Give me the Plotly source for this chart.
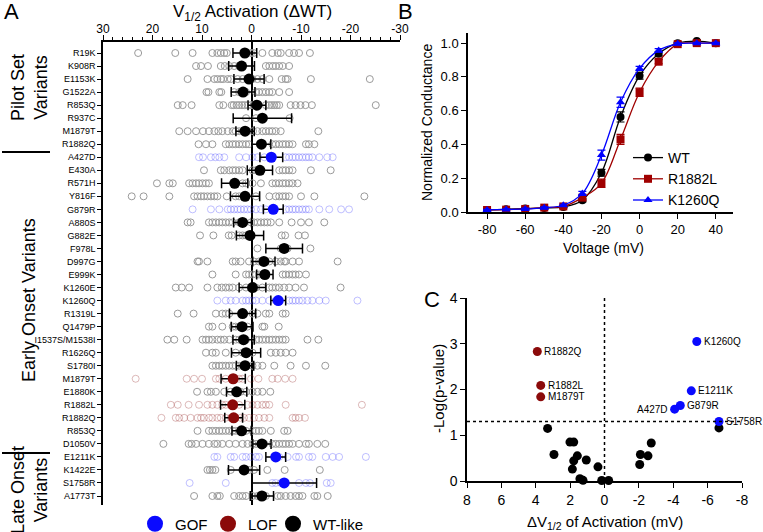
import plotly.graph_objects as go

FONT = "Liberation Sans, Arial, sans-serif"

# ---- Panel A: V1/2 shift per variant (relative to WT) ----
variants = ["R19K", "K908R", "E1153K", "G1522A", "R853Q", "R937C", "M1879T",
            "R1882Q", "A427D", "E430A", "R571H", "Y816F", "G879R", "A880S", "G882E",
            "F978L", "D997G", "E999K", "K1260E", "K1260Q", "R1319L", "Q1479P",
            "I1537S/M1538I", "R1626Q", "S1780I", "M1879T", "E1880K", "R1882L", "R1882Q",
            "R853Q", "D1050V", "E1211K", "K1422E", "S1758R", "A1773T"]
effect = ["WT", "WT", "WT", "WT", "WT", "WT", "WT",
          "WT", "GOF", "WT", "WT", "WT", "GOF", "WT", "WT",
          "WT", "WT", "WT", "WT", "GOF", "WT", "WT",
          "WT", "WT", "WT", "LOF", "WT", "LOF", "LOF",
          "WT", "WT", "GOF", "WT", "GOF", "WT"]
dv_mean = [1.35, 2.0, 0.5, 1.7, -1.1, -2.2, 1.3,
           -2.0, -4.0, -1.7, 3.4, 1.3, -4.4, 1.8, 0.3,
           -6.6, -2.5, -2.7, -0.2, -5.4, 1.8, 1.9,
           1.6, 1.1, 1.3, 3.7, 3.0, 3.8, 3.6,
           2.0, -2.1, -4.9, 1.5, -6.6, -2.1]
dv_sem = [2.4, 2.6, 3.05, 2.4, 1.8, 5.9, 1.85,
          1.9, 2.3, 2.55, 2.65, 2.95, 2.0, 1.8, 2.75,
          3.7, 2.25, 1.65, 2.7, 1.5, 2.65, 2.2,
          2.15, 2.95, 1.75, 2.45, 2.05, 2.45, 1.8,
          1.95, 1.85, 2.0, 3.15, 6.55, 2.35]
dv_cells = [
    [22.9, 15.4, 11.9, 7.9, 6.9, 6.2, 5.5, 5.0, 1.1, 0.1, -0.4, -2.2, -4.2, -5.3, -5.9, -7.6, -8.6, -9.6, -11.8],
    [11.2, 10.2, 8.8, 6.2, 5.4, 4.5, 3.5, 2.5, -2.9, -3.6, -4.3, -4.9, -5.6, -6.3, -7.6],
    [12.9, 8.9, 7.5, 6.9, 6.2, 5.7, 4.8, 4.2, 2.8, 1.8, 0.8, -0.2, -1.2, -2.2, -3.6, -6.1, -6.9, -7.3, -12.0, -23.9],
    [9.1, 8.7, 6.5, 6.1, 3.5, 2.5, 1.1, -0.9, -1.5, -2.2, -2.9, -3.6, -4.2, -5.6, -7.6],
    [14.9, 13.9, 12.1, 6.5, 5.7, 4.0, 3.6, 3.0, 2.5, 1.9, 1.4, 0.8, 0.1, -0.5, -2.9, -3.6, -4.1, -4.6, -5.1, -5.6,
     -7.9, -8.9, -9.9, -10.9, -12.2, -25.1],
    [1.1, -0.9, -7.7],
    [14.6, 12.9, 11.2, 9.8, 8.6, 7.5, 6.7, 5.9, 4.8, 3.8, 3.2, 2.5, 1.8, 0.8, -0.3, -1.2, -2.2, -2.9, -3.6, -4.2,
     -4.9, -5.9, -13.5],
    [10.7, 9.2, 7.9, 5.2, 4.5, 3.8, 3.2, 2.5, 1.8, 1.1, 0.5, -4.2, -4.9, -5.6, -6.3, -6.9, -7.6, -8.3, -11.0, -11.6, -12.7],
    [10.6, 9.8, 8.2, 7.3, 6.5, 5.5, 2.5, 1.1, -0.2, -1.2, -2.6, -3.6, -6.9, -7.6, -8.3, -8.9, -9.6, -10.3, -11.0,
     -11.6, -12.3, -13.7, -15.3, -16.4],
    [9.6, 6.2, 5.5, 4.5, 3.8, 3.2, 2.5, 1.8, -0.2, -0.9, -1.5, -5.6, -6.3, -6.9, -7.6, -8.3, -12.0, -16.0],
    [19.1, 16.6, 15.9, 12.6, 11.9, 11.2, 10.6, 9.9, 9.2, 8.6, 1.8, 1.1, -0.2, -1.9, -4.2, -4.9, -5.6, -6.3, -6.9,
     -7.6, -8.3, -9.3],
    [24.2, 21.8, 16.6, 11.6, 10.9, 10.2, 9.6, 8.9, 8.2, 7.5, 6.9, 5.0, 3.2, 2.5, 1.1, -0.9, -3.6, -4.9, -5.6, -6.3,
     -6.9, -7.6, -10.0, -12.7, -22.8],
    [11.9, 8.2, 6.5, 4.8, 4.2, 3.5, 2.8, 2.2, 1.5, 0.8, 0.1, -0.9, -1.9, -2.9, -6.9, -7.6, -8.3, -8.9, -9.6, -10.3,
     -11.0, -11.6, -13.7, -15.7, -18.1, -19.7],
    [12.9, 12.3, 8.6, 7.9, 7.2, 6.5, 5.9, 5.2, 4.5, 3.8, 2.5, 0.1, -0.5, -1.2, -1.9, -2.6, -3.2, -3.9, -5.6, -8.1,
     -10.0, -11.6, -14.7],
    [10.4, 7.7, 4.6, 4.0, 2.5, 1.8, 1.1, -6.1, -6.8, -9.5, -10.8],
    [-1.2, -5.9, -6.6, -7.3, -11.9],
    [10.9, 10.6, 8.9, 3.8, 3.2, 2.2, 0.5, -0.5, -1.5, -2.9, -3.6, -4.9, -5.9, -6.6, -6.9, -8.3, -9.6, -17.4],
    [7.9, 3.2, 1.1, 0.5, -0.2, -0.9, -1.5, -6.3, -6.9, -7.6, -8.3, -8.9, -9.6, -11.0],
    [15.3, 14.1, 12.6, 8.9, 6.9, 6.0, 5.2, 4.5, 3.8, 2.5, 1.1, -0.9, -2.2, -3.6, -4.2, -4.9, -5.6, -6.6, -7.6, -8.9,
     -10.6, -18.0],
    [6.9, 5.2, 4.2, 3.2, 1.8, 1.1, 0.5, -0.2, -0.9, -2.2, -3.6, -4.9, -7.6, -8.3, -8.9, -9.6, -10.3, -11.3, -12.3,
     -13.7, -15.0, -21.4],
    [14.9, 11.7, 7.2, 5.9, 5.2, 4.5, -0.2, -1.2, -2.9, -3.6, -6.3, -6.9],
    [8.6, 7.9, 5.9, 3.8, 3.2, 2.5, 0.8, -2.2, -2.6, -5.5],
    [17.0, 15.6, 13.1, 9.9, 9.2, 8.6, 7.9, 6.9, 6.2, 5.5, 4.5, 3.2, 2.5, 1.1, -0.9, -1.5, -2.2, -2.9, -3.6, -4.2,
     -4.9, -5.6, -6.3, -6.9, -11.3, -13.5],
    [9.2, 7.9, 7.2, 5.2, 3.2, 1.8, -0.2, -3.9, -4.9, -5.9, -6.9, -8.3],
    [7.9, 7.2, 6.5, 5.9, 5.2, 4.5, 3.8, 3.2, 2.5, 1.8, -0.2, -1.2, -2.2, -4.6, -7.9, -11.0, -14.9],
    [23.4, 13.1, 11.6, 10.0, 7.2, 6.5, 5.2, 3.8, 2.5, 1.8, 0.1, -1.4, -4.2, -5.3, -6.8, -8.3],
    [11.0, 8.9, 8.2, 7.2, 5.5, 4.2, 3.2, 2.2, 1.1, -0.2, -1.2, -2.2, -3.8],
    [16.3, 14.9, 12.7, 10.6, 8.9, 7.9, 6.9, 5.9, 5.2, 3.8, 2.5, 0.8, -0.2, -1.2, -2.2, -2.9, -3.6, -6.9, -22.3],
    [18.2, 15.3, 14.6, 13.6, 12.3, 10.9, 10.2, 9.6, 8.6, 7.9, 6.9, 6.2, 5.2, 4.2, 3.2, 2.2, 1.5, 0.5, -0.5, -1.5,
     -2.6, -3.6, -8.3, -8.9, -9.6, -10.8],
    [10.9, 8.6, 7.9, 7.2, 6.5, 5.9, 5.2, 4.5, 3.8, 3.2, 1.1, -0.2, -0.9, -1.5, -2.2, -3.9, -6.6, -7.3],
    [17.8, 12.7, 12.1, 11.2, 9.9, 8.6, 7.5, 6.9, 5.9, 4.5, 3.2, 1.8, 0.8, -0.2, -0.9, -2.6, -4.2, -4.9, -5.6, -6.3,
     -6.9, -7.6, -8.3, -9.6, -11.0, -11.6, -13.3, -14.9],
    [7.5, 6.9, 4.2, 3.5, 1.8, 1.1, 0.1, -0.9, -1.5, -5.6, -7.3, -9.0, -9.6, -11.6, -12.3, -15.0, -16.4, -17.7, -23.1],
    [8.9, 8.4, 7.9, 7.3, 4.2, 1.8, 0.5, -0.5, -3.2, -6.7, -13.8],
    [12.5, 5.2, -4.2, -4.9, -5.9, -6.9, -9.6, -11.0, -11.8, -15.2, -16.0],
    [11.6, 7.9, 6.9, 6.4, 3.5, 2.5, 1.8, 1.1, -0.2, -1.2, -2.2, -2.9, -5.3, -5.9, -6.9, -7.9, -8.9, -9.6, -10.3,
     -12.7, -13.3, -15.4],
]
a_ticks = [30, 20, 10, 0, -10, -20, -30]
a_ticktext = ["30", "20", "10", "0", "-10", "-20", "-30"]

# ---- Panel B: conductance-voltage ----
voltage = [-80, -70, -60, -50, -40, -30, -20, -10, 0, 10, 20, 30, 40]
wt_g = [0.012, 0.016, 0.02, 0.024, 0.03, 0.07, 0.232, 0.563, 0.807, 0.937, 1.0, 1.012, 1.0]
wt_err = [0.004, 0.004, 0.004, 0.005, 0.006, 0.01, 0.02, 0.03, 0.02, 0.012, 0.006, 0.006, 0.004]
r1882l_g = [0.012, 0.014, 0.018, 0.026, 0.033, 0.085, 0.17, 0.43, 0.709, 0.89, 0.994, 1.0, 1.0]
r1882l_err = [0.004, 0.004, 0.005, 0.005, 0.006, 0.012, 0.025, 0.03, 0.025, 0.012, 0.006, 0.004, 0.004]
k1260q_g = [0.012, 0.015, 0.018, 0.025, 0.04, 0.11, 0.337, 0.65, 0.85, 0.957, 0.996, 1.0, 1.0]
k1260q_err = [0.004, 0.004, 0.005, 0.005, 0.006, 0.012, 0.03, 0.03, 0.012, 0.01, 0.005, 0.004, 0.004]

# ---- Panel C: volcano ----
volc_dv = [3.91, 3.71, 3.71, -5.37, -5.05, -4.41, -4.08, -6.66,
           3.31, 2.94, 2.01, 1.79, 1.79, 1.87, 1.58, 1.43, 1.25, 1.06, 0.38, 0.16, -0.24,
           -2.05, -2.09, -2.53, -2.72, -6.66]
volc_logp = [2.83, 2.09, 1.84, 3.05, 1.97, 1.65, 1.57, 1.30,
             1.15, 0.58, 0.85, 0.85, 0.44, 0.26, 0.55, 0.05, 0.015, 0.46, 0.31, 0.01, 0.01,
             0.36, 0.58, 0.55, 0.83, 1.16]
volc_effect = ["LOF", "LOF", "LOF", "GOF", "GOF", "GOF", "GOF", "GOF"] + ["WT"] * 18
volc_label = ["R1882Q", "R1882L", "M1879T", "K1260Q", "E1211K", "G879R", "A427D", "S1758R"] + [""] * 18
sig_threshold = 1.3

colors = {"GOF": "#0a0aff", "LOF": "#8b0a0a", "WT": "#000000"}
cell_colors = {"GOF": "rgba(90,90,255,0.38)", "LOF": "rgba(150,40,40,0.32)", "WT": "#9a9a9a"}
legend_names = {"GOF": "GOF", "LOF": "LOF", "WT": "WT-like"}
# one small legend box per category, placed along the bottom of panel A
legend_slots = {"GOF": ("legend2", 135), "LOF": ("legend3", 208), "WT": ("legend4", 273)}

fig = go.Figure()

# individual cells
for grp in ["WT", "GOF", "LOF"]:
    xs, ys = [], []
    for i, pts in enumerate(dv_cells):
        if effect[i] == grp:
            xs += pts
            ys += [i] * len(pts)
    fig.add_trace(go.Scatter(x=xs, y=ys, mode="markers", showlegend=False, hoverinfo="skip",
                             marker=dict(symbol="circle-open", size=7, color=cell_colors[grp],
                                         line=dict(width=1)),
                             xaxis="x", yaxis="y"))

# means +/- sem
for grp in ["WT", "GOF", "LOF"]:
    idx = [i for i in range(len(variants)) if effect[i] == grp]
    fig.add_trace(go.Scatter(x=[dv_mean[i] for i in idx], y=idx, mode="markers", showlegend=False,
                             marker=dict(size=11, color=colors[grp]),
                             error_x=dict(type="data", array=[dv_sem[i] for i in idx], color="black",
                                          thickness=1.5, width=5),
                             xaxis="x", yaxis="y"))

# legend for panel A
for grp in ["GOF", "LOF", "WT"]:
    fig.add_trace(go.Scatter(x=[None], y=[None], mode="markers", name=legend_names[grp],
                             marker=dict(size=16, color=colors[grp]), legend=legend_slots[grp][0],
                             xaxis="x", yaxis="y"))

# panel B
for name, g, err, col, sym in [("WT", wt_g, wt_err, "black", "circle"),
                               ("R1882L", r1882l_g, r1882l_err, "#a00000", "square"),
                               ("K1260Q", k1260q_g, k1260q_err, "#0000ff", "triangle-up")]:
    fig.add_trace(go.Scatter(x=voltage, y=g, mode="lines+markers", name=name,
                             line=dict(shape="spline", color=col, width=1.3),
                             marker=dict(symbol=sym, size=8, color=col),
                             error_y=dict(type="data", array=err, color=col, thickness=1.2, width=4),
                             cliponaxis=False, xaxis="x2", yaxis="y2", legend="legend"))

# panel C
for grp in ["WT", "LOF", "GOF"]:
    idx = [i for i in range(len(volc_dv)) if volc_effect[i] == grp]
    fig.add_trace(go.Scatter(x=[volc_dv[i] for i in idx], y=[volc_logp[i] for i in idx], mode="markers",
                             showlegend=False, cliponaxis=False,
                             marker=dict(size=9, color=colors[grp]), xaxis="x3", yaxis="y3"))

annotations = []
for i, lab in enumerate(volc_label):
    if not lab:
        continue
    left = lab == "A427D"
    annotations.append(dict(x=volc_dv[i], y=volc_logp[i], xref="x3", yref="y3", text=lab, showarrow=False,
                            xanchor="right" if left else "left", xshift=-5 if left else 5,
                            font=dict(size=10, color="black")))


def px(x):
    return x / 763


def py(y):
    return 1 - y / 532


def note(text, x, y, size, angle=0, xanchor="center"):
    annotations.append(dict(text=text, x=px(x), y=py(y), xref="paper", yref="paper", showarrow=False,
                            textangle=angle, xanchor=xanchor, yanchor="middle",
                            font=dict(size=size, color="black")))


note("A", 2, 12, 22, xanchor="left")
note("V<sub>1/2</sub> Activation (ΔWT)", 252, 13, 17)
note("Pilot Set<br>Variants", 29, 88, 18, angle=-90)
note("Early Onset Variants", 29, 300, 18, angle=-90)
note("Late Onset<br>Variants", 29, 490, 18, angle=-90)
note("B", 396, 12, 22, xanchor="left")
note("Normalized Conductance", 427, 123, 14, angle=-90)
note("Voltage (mV)", 603, 248, 14)
note("C", 422, 299, 22, xanchor="left")
note("-Log(p-value)", 438, 389, 15, angle=-90)
note("ΔV<sub>1/2</sub> of Activation (mV)", 605, 522, 15)

shapes = [
    dict(type="line", xref="paper", yref="paper", x0=px(2), x1=px(50), y0=py(152), y1=py(152),
         line=dict(color="black", width=2)),
    dict(type="line", xref="paper", yref="paper", x0=px(2), x1=px(50), y0=py(453), y1=py(453),
         line=dict(color="black", width=2)),
    dict(type="line", xref="x3 domain", yref="y3", x0=0, x1=1, y0=sig_threshold, y1=sig_threshold,
         line=dict(color="black", width=1.5, dash="dot")),
    dict(type="line", xref="x3", yref="y3 domain", x0=0, x1=0, y0=0, y1=1,
         line=dict(color="black", width=1.5, dash="dot")),
]

axis_common = dict(showline=True, linecolor="black", linewidth=1.5, ticks="outside", tickcolor="black",
                   tickwidth=1.2, ticklen=5, showgrid=False, zeroline=False, automargin=False,
                   tickfont=dict(color="black"))

legend_boxes = {}
for grp, (key, left_px) in legend_slots.items():
    legend_boxes[key] = dict(x=px(left_px), y=py(524), xanchor="left", yanchor="middle",
                             font=dict(size=15), bgcolor="rgba(0,0,0,0)", itemwidth=30)

fig.update_layout(
    width=763, height=532, margin=dict(l=0, r=0, t=0, b=0, autoexpand=False),
    paper_bgcolor="white", plot_bgcolor="white",
    font=dict(family=FONT, color="black"),
    xaxis=dict(axis_common, domain=[px(103), px(400)], range=[30, -30], side="top", anchor="y",
               tickvals=a_ticks, ticktext=a_ticktext, tickfont=dict(size=12), ticklabelstandoff=-3,
               zeroline=True, zerolinecolor="black", zerolinewidth=1.5,
               minor=dict(dtick=2, tick0=0, ticks="outside", ticklen=3, tickcolor="black", tickwidth=1)),
    yaxis=dict(axis_common, domain=[py(505), py(42)], range=[34.69, -0.845], anchor="x",
               tickvals=list(range(len(variants))), ticktext=variants, tickfont=dict(size=9), ticklen=4),
    xaxis2=dict(axis_common, domain=[px(468), px(733)], range=[-90, 49], anchor="y2",
                tickvals=[-80, -60, -40, -20, 0, 20, 40],
                ticktext=["-80", "-60", "-40", "-20", "0", "20", "40"], tickfont=dict(size=13)),
    yaxis2=dict(axis_common, domain=[py(212), py(33)], range=[0, 1.06], anchor="x2",
                tickvals=[0, 0.2, 0.4, 0.6, 0.8, 1.0],
                ticktext=["0.0", "0.2", "0.4", "0.6", "0.8", "1.0"], tickfont=dict(size=13)),
    xaxis3=dict(axis_common, domain=[px(467), px(742)], range=[8, -8], anchor="y3",
                tickvals=[8, 6, 4, 2, 0, -2, -4, -6, -8],
                ticktext=["8", "6", "4", "2", "0", "-2", "-4", "-6", "-8"], tickfont=dict(size=14)),
    yaxis3=dict(axis_common, domain=[py(481), py(298)], range=[0, 4], anchor="x3",
                tickvals=[0, 1, 2, 3, 4], tickfont=dict(size=14)),
    legend=dict(x=px(628), y=py(142), xanchor="left", yanchor="top", font=dict(size=14),
                bgcolor="rgba(0,0,0,0)", itemwidth=30, tracegroupgap=0),
    annotations=annotations,
    shapes=shapes,
    **legend_boxes,
)

fig.write_html("out.html", config={"displayModeBar": False},
               post_script="document.body.style.margin='0px';")
